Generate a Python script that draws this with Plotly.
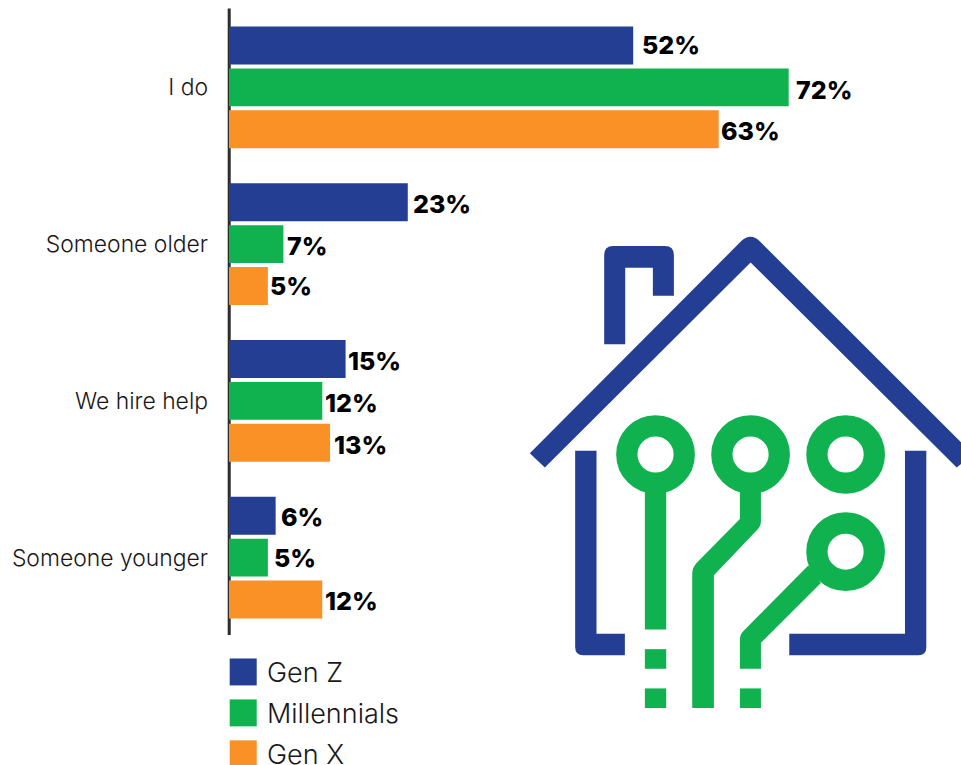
import plotly.graph_objects as go

categories = ["I do", "Someone older", "We hire help", "Someone younger"]
gen_z = [52, 23, 15, 6]
millennials = [72, 7, 12, 5]
gen_x = [63, 5, 13, 12]
series_names = ["Gen Z", "Millennials", "Gen X"]

NAVY = "#233e92"
GREEN = "#10b14f"
ORANGE = "#f99127"
INK = "#1a1718"
LABEL_FONT = "Inter"

W, H = 961, 765
L, R, T, B = 229.3, 0, 8.5, 128.5
plot_w = W - L - R
plot_h = H - T - B


def px(x):
    return (x - L) / plot_w


def py(y):
    return (H - B - y) / plot_h


def path(points, close=True):
    """SVG path in paper coordinates from absolute figure pixels."""
    out = []
    for item in points:
        if item[0] == "Q":
            _, cx, cy, x, y = item
            out.append(f"Q{px(cx)},{py(cy)} {px(x)},{py(y)}")
        else:
            cmd = "M" if not out else "L"
            out.append(f"{cmd}{px(item[0])},{py(item[1])}")
    return " ".join(out) + (" Z" if close else "")


def icon(zx, zy):
    return (520 + zx / 3, 230 + zy / 3)


def icon_q(cx, cy, x, y):
    a, b = icon(cx, cy), icon(x, y)
    return ("Q", a[0], a[1], b[0], b[1])


def solid(points, color):
    return dict(type="path", xref="paper", yref="paper", path=path(points),
                fillcolor=color, line=dict(width=0), layer="above")


def rect_pts(x0, y0, x1, y1):
    return [icon(x0, y0), icon(x1, y0), icon(x1, y1), icon(x0, y1)]


fig = go.Figure()
for name, values, color in zip(series_names, [gen_z, millennials, gen_x], [NAVY, GREEN, ORANGE]):
    fig.add_trace(go.Bar(y=categories, x=values, name=name, orientation="h",
                         marker=dict(color=color, line=dict(width=0)), showlegend=False,
                         hoverinfo="x+y"))

shapes = []

# vertical baseline behind the bars
shapes.append(dict(type="line", xref="paper", yref="paper", x0=px(229.5), x1=px(229.5),
                   y0=py(8), y1=py(635.5), line=dict(color="#2d2b2c", width=3), layer="below"))

# legend swatches and names
legend_tops = [659, 700, 741]
for name, color, top in zip(series_names, [NAVY, GREEN, ORANGE], legend_tops):
    shapes.append(dict(type="rect", xref="paper", yref="paper", x0=px(230), x1=px(257),
                       y0=py(top), y1=py(top + 27), fillcolor=color, line=dict(width=0)))

# house outline
shapes.append(solid([icon(253, 343), icon(253, 75), icon_q(253, 48, 280, 48), icon(435, 48),
                     icon_q(462, 48, 462, 75), icon(462, 197), icon(399, 197), icon(399, 113),
                     icon(316, 113), icon(316, 343)], NAVY))
shapes.append(solid([icon(30, 670), icon(665, 32), icon_q(692, 8, 718, 32), icon(1360, 674),
                     icon(1310, 713), icon(692, 97), icon(75, 713)], NAVY))
shapes.append(solid([icon(166, 663), icon(230, 663), icon(230, 1213), icon(315, 1213),
                     icon(315, 1277), icon(190, 1277), icon_q(166, 1277, 166, 1253)], NAVY))
shapes.append(solid([icon(1155, 663), icon(1219, 663), icon(1219, 1253),
                     icon_q(1219, 1277, 1195, 1277), icon(808, 1277), icon(808, 1213),
                     icon(1155, 1213)], NAVY))

# circuit traces
shapes.append(solid(rect_pts(375, 770, 439, 1200), GREEN))
shapes.append(solid(rect_pts(375, 1259, 439, 1318), GREEN))
shapes.append(solid(rect_pts(375, 1377, 439, 1436), GREEN))
shapes.append(solid([icon(660, 770), icon(723, 770), icon(723, 875), icon_q(723, 890, 712, 900),
                     icon(582, 1037), icon(582, 1436), icon(517, 1436), icon(517, 1030),
                     icon_q(517, 1015, 530, 1000), icon(660, 868)], GREEN))
shapes.append(solid([icon(865, 1008), icon(903, 1060), icon(723, 1240), icon(723, 1318),
                     icon(660, 1318), icon(660, 1230), icon_q(660, 1215, 672, 1203)], GREEN))
shapes.append(solid(rect_pts(660, 1377, 723, 1436), GREEN))

# circuit pads
for zx, zy in [(407, 674), (692, 674), (977, 674), (977, 966)]:
    cx, cy = icon(zx, zy)
    shapes.append(dict(type="circle", xref="paper", yref="paper", layer="above",
                       x0=px(cx - 28.7), x1=px(cx + 28.7), y0=py(cy + 28.7), y1=py(cy - 28.7),
                       line=dict(color=GREEN, width=21.3), fillcolor="rgba(0,0,0,0)"))

annotations = []

# per-bar value labels, nudged off the bar ends
label_dx = [[7, 5, 0], [3, 2, 0], [0, 1, 2], [3, 4, 1]]
label_dy = [[0, 3, 2], [2, 2, 0], [2, 2, 2], [1, 0, 1]]
for s, values in enumerate([gen_z, millennials, gen_x]):
    for c, v in enumerate(values):
        annotations.append(dict(
            x=v, y=c, xref="x", yref="y", text=f"{v}%", showarrow=False,
            xanchor="left", yanchor="middle",
            xshift=label_dx[c][s], yshift=(1 - s) * 42 - label_dy[c][s],
            font=dict(family=LABEL_FONT, size=25, color="#000000", weight=800)))

for name, top in zip(series_names, legend_tops):
    annotations.append(dict(x=px(265), y=py(top + 14), xref="paper", yref="paper", text=name,
                            showarrow=False, xanchor="left", yanchor="middle",
                            font=dict(family=LABEL_FONT, size=27, color=INK, weight=300)))

fig.update_layout(
    width=W, height=H,
    margin=dict(l=L, r=R, t=T, b=B, pad=0),
    paper_bgcolor="white", plot_bgcolor="rgba(0,0,0,0)",
    barmode="group", bargap=0.197, bargroupgap=0.095,
    shapes=shapes, annotations=annotations,
    xaxis=dict(range=[0, plot_w / 7.77], visible=False, fixedrange=True),
    yaxis=dict(autorange="reversed", showline=False, showgrid=False, zeroline=False,
               ticks="", ticklabelstandoff=20, fixedrange=True,
               tickfont=dict(family=LABEL_FONT, size=22.9, color=INK, weight=300)),
)

fig.write_html("out.html", config={"displayModeBar": False})
